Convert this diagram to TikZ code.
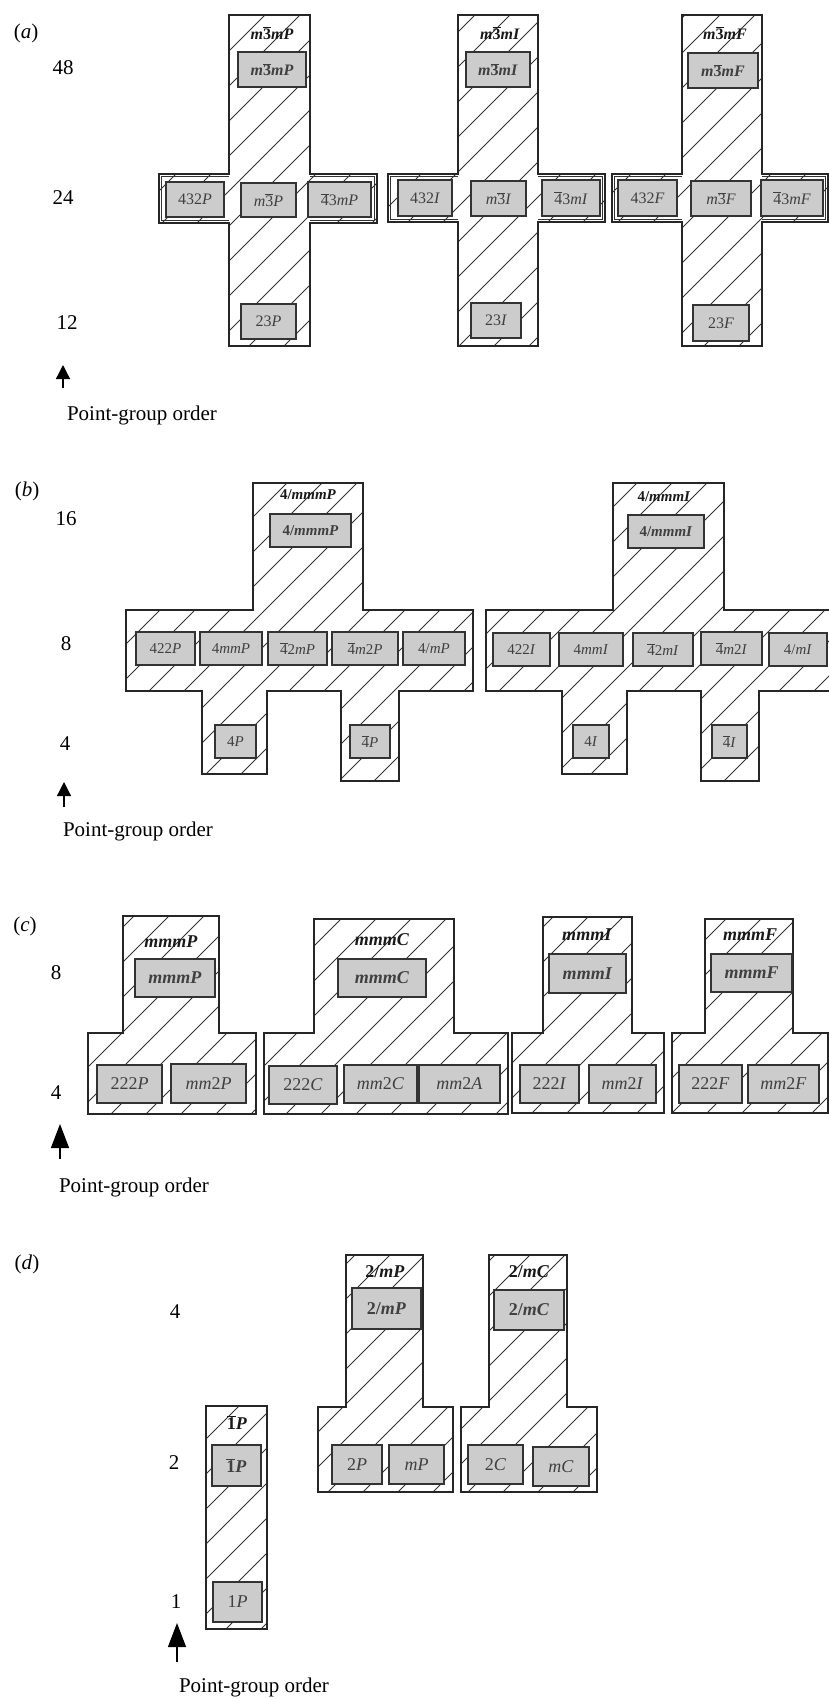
\documentclass[tikz,border=0pt]{standalone}
\usepackage{fontspec}
\setmainfont{Liberation Serif}
\usetikzlibrary{arrows.meta}
\newcommand\mi[1]{\textit{#1}}
\newcommand\ob[1]{$\overline{\mbox{#1}}$}
\newcommand\bx[6]{\node[gbox,minimum width={(#4-#2)*1pt},minimum height={(#5-#3)*1pt}] (#1) at ({(#2+#4)/2},{(#3+#5)/2}) {#6};}
\newcommand\hshape[1]{\begin{scope}\clip #1;\foreach \k in {-1700,-1665,...,900}{\draw[hatchline] (\k,1700) -- ++(1700,-1700);}\end{scope}\draw[outline] #1;}
\begin{document}
\begin{tikzpicture}[x=1pt,y=-1pt,
 hatchline/.style={line width=0.9pt, draw=black!80},
 outline/.style={line width=1.2pt, draw=black!85, line join=miter},
 inline/.style={line width=1pt, draw=black!80},
 bxfont/.style={font=\fontsize{16}{18}\selectfont},
 gbox/.style={draw=black!80, line width=1.3pt, fill=black!20, inner sep=0pt, outer sep=0pt, text=black!75, bxfont},
 toplab/.style={inner sep=0pt, text=black!90, bxfont},
 axlab/.style={inner sep=0pt, font=\fontsize{21}{24}\selectfont, text=black},
 upar/.style={line width=1.3pt, draw=black, -{Triangle[length=14pt,width=14pt]}},
 upbig/.style={line width=1.3pt, draw=black, -{Triangle[length=24pt,width=18pt]}}]
\useasboundingbox (0,0) rectangle (829,1699);
\clip (0,0) rectangle (829,1699);

% ================= (a) =================
\node[axlab] (alab) at (26,33) {(\mi{a})};
\node[axlab] (a48) at (63,68) {48};
\node[axlab] (a24) at (63,198) {24};
\node[axlab] (a12) at (67,323) {12};
\coordinate (aTail) at (63,388);
\coordinate (aTip) at (63,365);
\draw[upar] (aTail) -- (aTip);
\node[axlab] (aPGO) at (142,415) {Point-group order};

\begin{scope}[bxfont/.style={font=\fontsize{16}{18}\selectfont}]
\hshape{(229,15) -- (310,15) -- (310,174) -- (377,174) -- (377,223) -- (310,223) -- (310,346) -- (229,346) -- (229,223) -- (159,223) -- (159,174) -- (229,174) -- cycle}
\draw[inline] (229,176.5) -- (161.5,176.5) -- (161.5,220.5) -- (229,220.5);
\draw[inline] (310,176.5) -- (374.5,176.5) -- (374.5,220.5) -- (310,220.5);
\node[toplab] (aPtop) at (272,33) {\textbf{\mi{m}\ob{3}\mi{mP}}};
\bx{aP48}{238}{52}{306}{87}{\textbf{\mi{m}\ob{3}\mi{mP}}}
\bx{aP24a}{166}{182}{224}{217}{432\mi{P}}
\bx{aP24b}{241}{183}{296}{217}{\mi{m}\ob{3}\mi{P}}
\bx{aP24c}{308}{182}{371}{217}{\ob{4}3\mi{mP}}
\bx{aP12}{241}{304}{296}{339}{23\mi{P}}

\hshape{(458,15) -- (538,15) -- (538,174) -- (605,174) -- (605,222) -- (538,222) -- (538,346) -- (458,346) -- (458,222) -- (388,222) -- (388,174) -- (458,174) -- cycle}
\draw[inline] (458,176.5) -- (390.5,176.5) -- (390.5,219.5) -- (458,219.5);
\draw[inline] (538,176.5) -- (602.5,176.5) -- (602.5,219.5) -- (538,219.5);
\node[toplab] (aItop) at (500,33) {\textbf{\mi{m}\ob{3}\mi{mI}}};
\bx{aI48}{466}{52}{530}{87}{\textbf{\mi{m}\ob{3}\mi{mI}}}
\bx{aI24a}{398}{180}{452}{216}{432\mi{I}}
\bx{aI24b}{471}{181}{526}{216}{\mi{m}\ob{3}\mi{I}}
\bx{aI24c}{542}{180}{600}{216}{\ob{4}3\mi{mI}}
\bx{aI12}{471}{303}{521}{338}{23\mi{I}}

\hshape{(682,15) -- (762,15) -- (762,174) -- (828,174) -- (828,222) -- (762,222) -- (762,346) -- (682,346) -- (682,222) -- (612,222) -- (612,174) -- (682,174) -- cycle}
\draw[inline] (682,176.5) -- (614.5,176.5) -- (614.5,219.5) -- (682,219.5);
\draw[inline] (762,176.5) -- (825.5,176.5) -- (825.5,219.5) -- (762,219.5);
\node[toplab] (aFtop) at (725,33) {\textbf{\mi{m}\ob{3}\mi{mF}}};
\bx{aF48}{688}{53}{758}{88}{\textbf{\mi{m}\ob{3}\mi{mF}}}
\bx{aF24a}{618}{180}{677}{216}{432\mi{F}}
\bx{aF24b}{691}{181}{751}{216}{\mi{m}\ob{3}\mi{F}}
\bx{aF24c}{761}{180}{823}{216}{\ob{4}3\mi{mF}}
\bx{aF12}{693}{305}{749}{341}{23\mi{F}}
\end{scope}

% ================= (b) =================
\node[axlab] (blab) at (27,491) {(\mi{b})};
\node[axlab] (b16) at (66,519) {16};
\node[axlab] (b8) at (66,644) {8};
\node[axlab] (b4) at (65,744) {4};
\coordinate (bTail) at (64,807);
\coordinate (bTip) at (64,782);
\draw[upar] (bTail) -- (bTip);
\node[axlab] (bPGO) at (138,831) {Point-group order};

\begin{scope}[bxfont/.style={font=\fontsize{15}{17}\selectfont}]
\hshape{(253,483) -- (363,483) -- (363,610) -- (473,610) -- (473,691) -- (399,691) -- (399,781) -- (341,781) -- (341,691) -- (267,691) -- (267,774) -- (202,774) -- (202,691) -- (126,691) -- (126,610) -- (253,610) -- cycle}
\node[toplab] (bPtop) at (308,495) {\textbf{4/\mi{mmmP}}};
\bx{bP16}{270}{514}{351}{547}{\textbf{4/\mi{mmmP}}}
\bx{bP8a}{136}{632}{195}{665}{422\mi{P}}
\bx{bP8b}{200}{632}{262}{665}{4\mi{mmP}}
\bx{bP8c}{268}{632}{327}{665}{\ob{4}2\mi{mP}}
\bx{bP8d}{332}{632}{398}{665}{\ob{4}\mi{m}2\mi{P}}
\bx{bP8e}{403}{632}{465}{665}{4/\mi{mP}}
\bx{bP4a}{215}{725}{256}{758}{4\mi{P}}
\bx{bP4b}{350}{725}{390}{758}{\ob{4}\mi{P}}

\hshape{(613,483) -- (724,483) -- (724,610) -- (833,610) -- (833,691) -- (759,691) -- (759,781) -- (701,781) -- (701,691) -- (627,691) -- (627,774) -- (562,774) -- (562,691) -- (486,691) -- (486,610) -- (613,610) -- cycle}
\node[toplab] (bItop) at (664,497) {\textbf{4/\mi{mmmI}}};
\bx{bI16}{628}{515}{704}{548}{\textbf{4/\mi{mmmI}}}
\bx{bI8a}{493}{633}{550}{666}{422\mi{I}}
\bx{bI8b}{559}{633}{623}{666}{4\mi{mmI}}
\bx{bI8c}{633}{633}{693}{666}{\ob{4}2\mi{mI}}
\bx{bI8d}{701}{632}{762}{665}{\ob{4}\mi{m}2\mi{I}}
\bx{bI8e}{769}{633}{827}{666}{4/\mi{mI}}
\bx{bI4a}{573}{725}{609}{758}{4\mi{I}}
\bx{bI4b}{712}{725}{747}{758}{\ob{4}\mi{I}}
\end{scope}

% ================= (c) =================
\node[axlab] (clab) at (25,926) {(\mi{c})};
\node[axlab] (c8) at (56,973) {8};
\node[axlab] (c4) at (56,1093) {4};
\coordinate (cTail) at (60,1159);
\coordinate (cTip) at (60,1124);
\draw[upbig] (cTail) -- (cTip);
\node[axlab] (cPGO) at (134,1187) {Point-group order};

\begin{scope}[bxfont/.style={font=\fontsize{18}{20}\selectfont}]
\hshape{(123,916) -- (219,916) -- (219,1033) -- (256,1033) -- (256,1114) -- (88,1114) -- (88,1033) -- (123,1033) -- cycle}
\node[toplab] (cPtop) at (171,942) {\textbf{\mi{mmmP}}};
\bx{cP8}{135}{959}{215}{997}{\textbf{\mi{mmmP}}}
\bx{cP4a}{97}{1065}{162}{1103}{222\mi{P}}
\bx{cP4b}{171}{1064}{246}{1103}{\mi{mm}2\mi{P}}

\hshape{(314,919) -- (454,919) -- (454,1033) -- (508,1033) -- (508,1114) -- (264,1114) -- (264,1033) -- (314,1033) -- cycle}
\node[toplab] (cCtop) at (382,940) {\textbf{\mi{mmmC}}};
\bx{cC8}{338}{959}{426}{997}{\textbf{\mi{mmmC}}}
\bx{cC4a}{269}{1066}{337}{1104}{222\mi{C}}
\bx{cC4b}{344}{1065}{417}{1103}{\mi{mm}2\mi{C}}
\bx{cC4c}{419}{1065}{500}{1103}{\mi{mm}2\mi{A}}

\hshape{(543,917) -- (632,917) -- (632,1033) -- (664,1033) -- (664,1113) -- (512,1113) -- (512,1033) -- (543,1033) -- cycle}
\node[toplab] (cItop) at (587,935) {\textbf{\mi{mmmI}}};
\bx{cI8}{549}{954}{626}{993}{\textbf{\mi{mmmI}}}
\bx{cI4a}{520}{1065}{579}{1103}{222\mi{I}}
\bx{cI4b}{589}{1065}{656}{1103}{\mi{mm}2\mi{I}}

\hshape{(705,919) -- (793,919) -- (793,1033) -- (828,1033) -- (828,1113) -- (672,1113) -- (672,1033) -- (705,1033) -- cycle}
\node[toplab] (cFtop) at (750,935) {\textbf{\mi{mmmF}}};
\bx{cF8}{711}{954}{792}{992}{\textbf{\mi{mmmF}}}
\bx{cF4a}{679}{1065}{742}{1103}{222\mi{F}}
\bx{cF4b}{748}{1065}{819}{1103}{\mi{mm}2\mi{F}}
\end{scope}

% ================= (d) =================
\node[axlab] (dlab) at (27,1264) {(\mi{d})};
\node[axlab] (d4) at (175,1312) {4};
\node[axlab] (d2) at (174,1463) {2};
\node[axlab] (d1) at (176,1602) {1};
\coordinate (dTail) at (177,1662);
\coordinate (dTip) at (177,1623);
\draw[upbig] (dTail) -- (dTip);
\node[axlab] (dPGO) at (254,1687) {Point-group order};

\begin{scope}[bxfont/.style={font=\fontsize{18}{20}\selectfont}]
\hshape{(206,1406) -- (267,1406) -- (267,1629) -- (206,1629) -- cycle}
\node[toplab] (dPtop) at (237,1423) {\textbf{\ob{1}\mi{P}}};
\bx{dP2}{212}{1445}{261}{1486}{\textbf{\ob{1}\mi{P}}}
\bx{dP1}{213}{1582}{262}{1622}{1\mi{P}}

\hshape{(346,1255) -- (423,1255) -- (423,1407) -- (453,1407) -- (453,1492) -- (318,1492) -- (318,1407) -- (346,1407) -- cycle}
\node[toplab] (dMPtop) at (385,1272) {\textbf{2/\mi{mP}}};
\bx{dMP4}{352}{1288}{421}{1329}{\textbf{2/\mi{mP}}}
\bx{dMP2a}{332}{1445}{382}{1484}{2\mi{P}}
\bx{dMP2b}{389}{1445}{444}{1484}{\mi{mP}}

\hshape{(489,1255) -- (567,1255) -- (567,1407) -- (597,1407) -- (597,1492) -- (461,1492) -- (461,1407) -- (489,1407) -- cycle}
\node[toplab] (dMCtop) at (529,1272) {\textbf{2/\mi{mC}}};
\bx{dMC4}{494}{1290}{564}{1330}{\textbf{2/\mi{mC}}}
\bx{dMC2a}{468}{1445}{523}{1484}{2\mi{C}}
\bx{dMC2b}{533}{1447}{589}{1486}{\mi{mC}}
\end{scope}
\end{tikzpicture}
\end{document}
